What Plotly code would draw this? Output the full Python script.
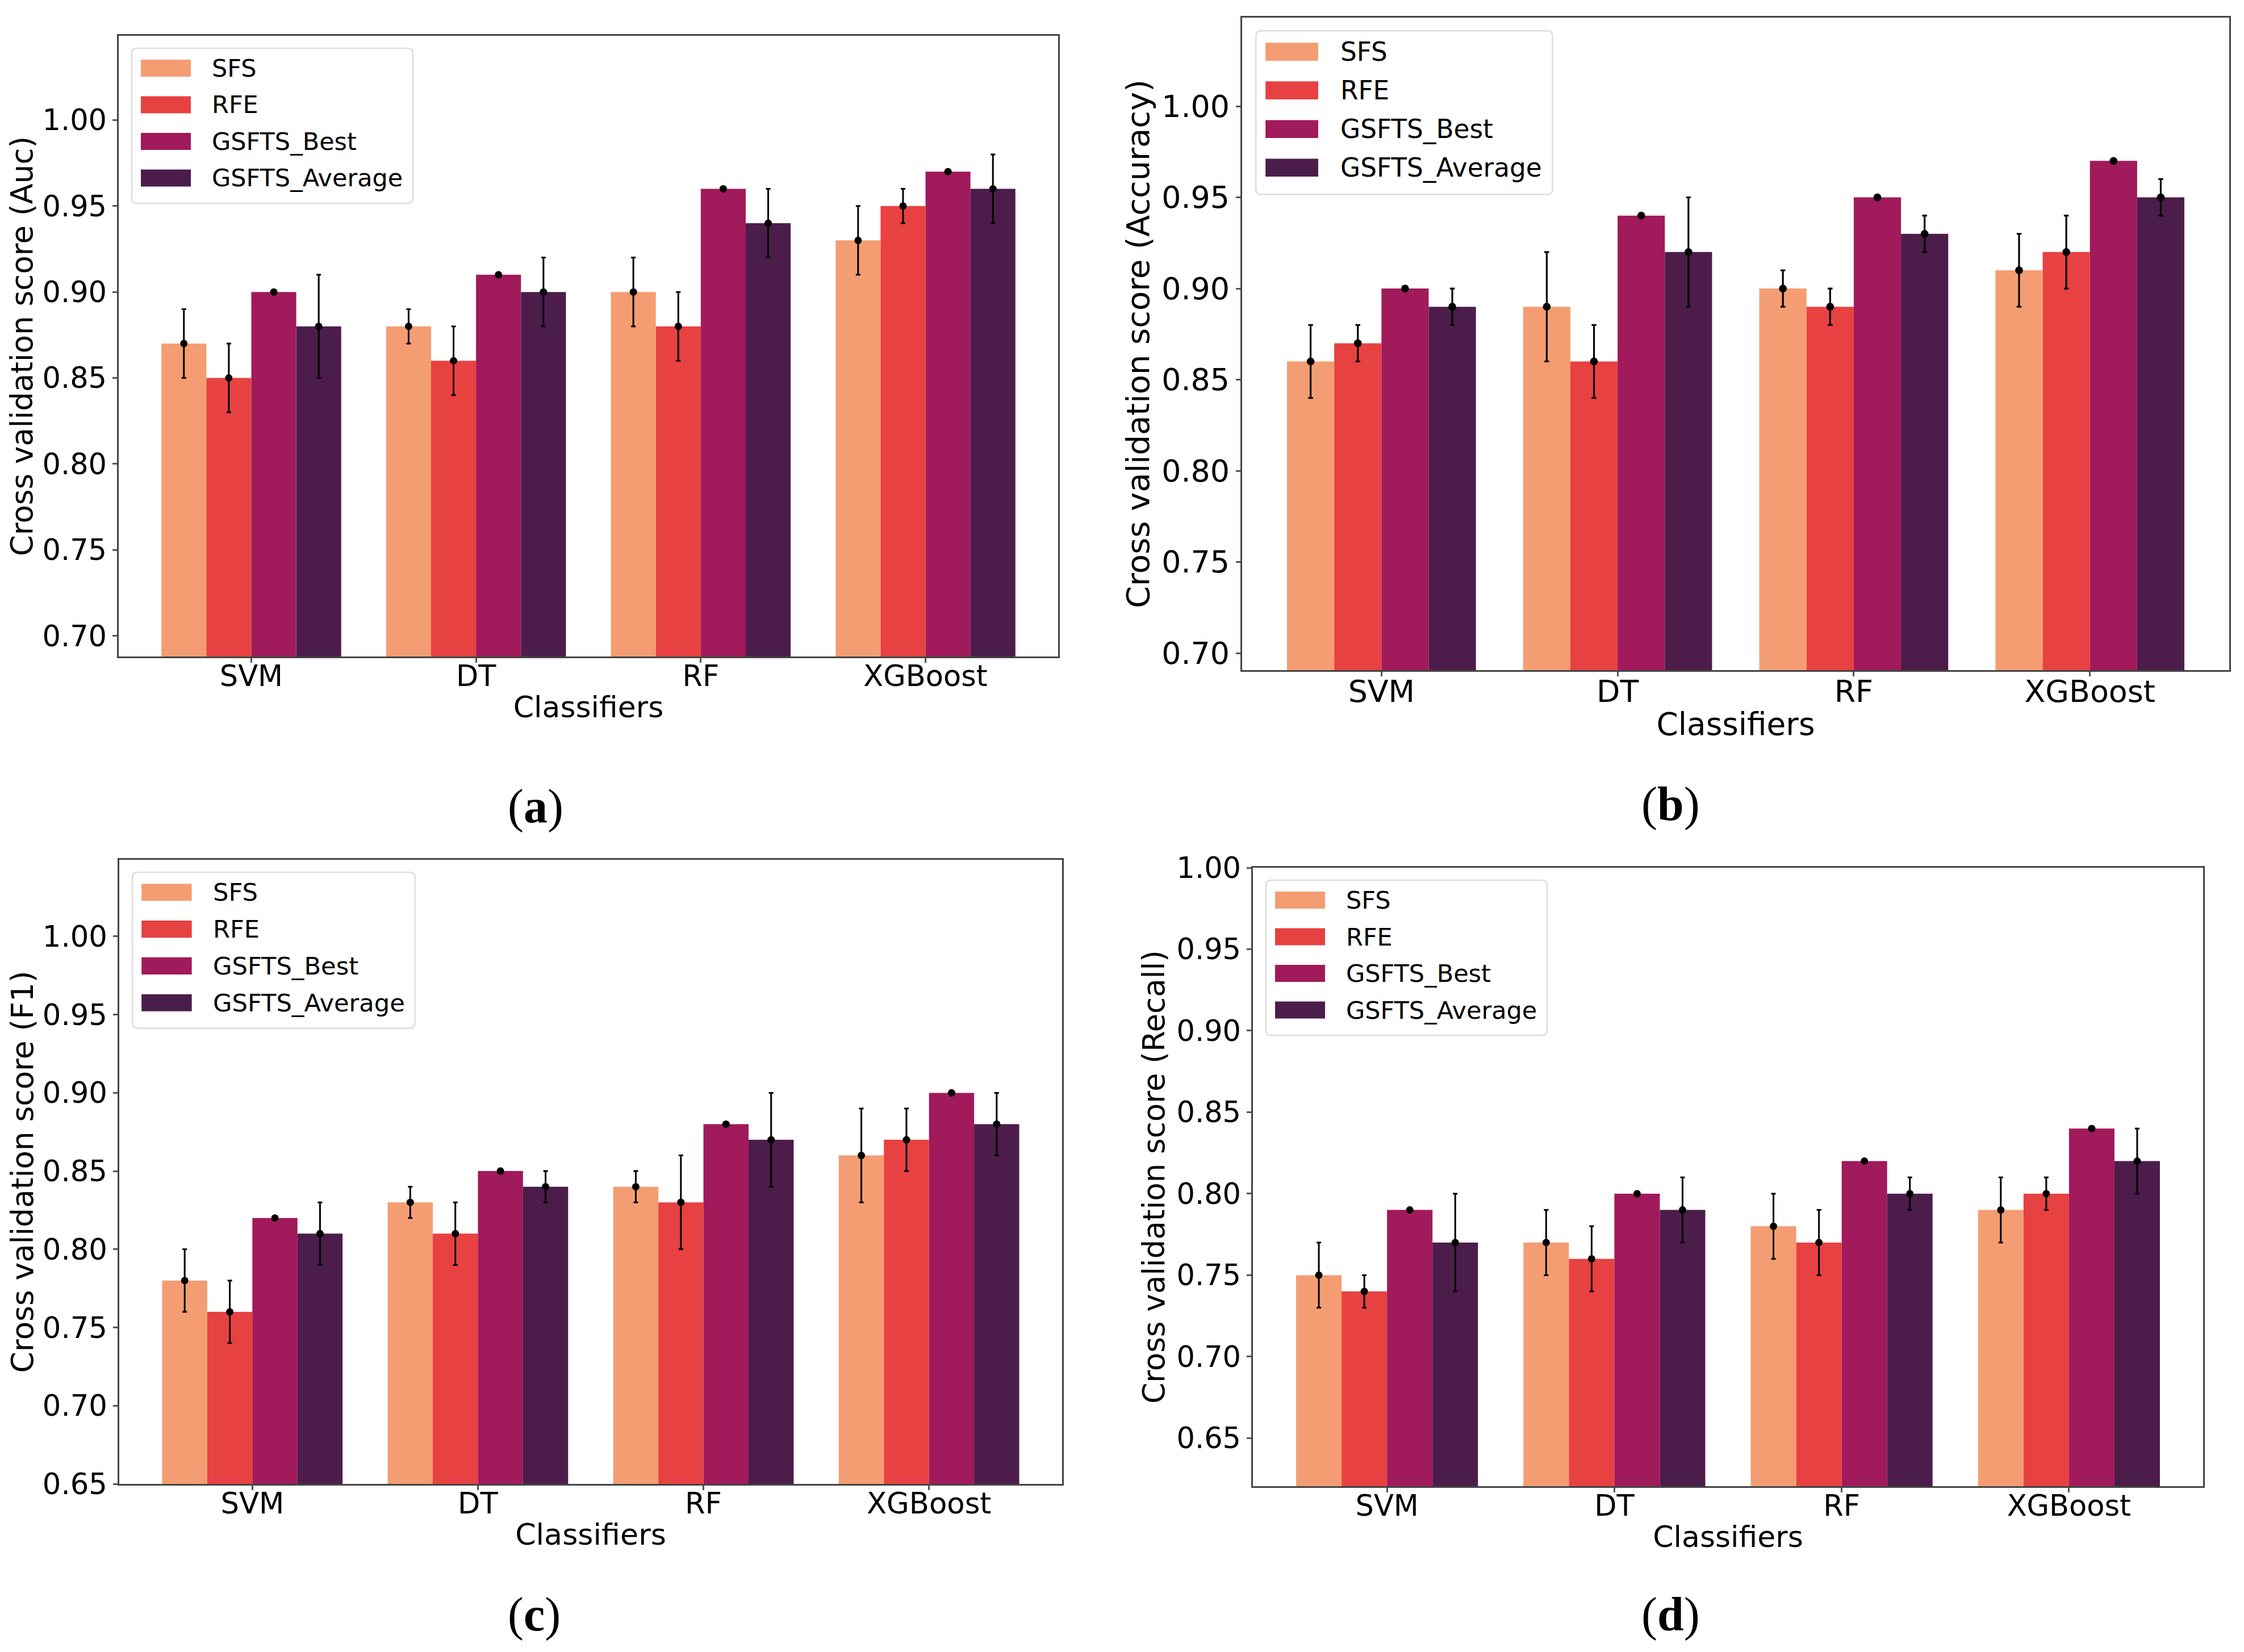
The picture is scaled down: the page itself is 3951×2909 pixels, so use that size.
import plotly.graph_objects as go

# ---------------- data ----------------
classifiers = ["SVM", "DT", "RF", "XGBoost"]
methods = ["SFS", "RFE", "GSFTS_Best", "GSFTS_Average"]
colors = ["#F49D72", "#E84141", "#A11A5B", "#4C1D4B"]

# (a) AUC
auc_sfs = [0.87, 0.88, 0.90, 0.93]
auc_sfs_err = [0.02, 0.01, 0.02, 0.02]
auc_rfe = [0.85, 0.86, 0.88, 0.95]
auc_rfe_err = [0.02, 0.02, 0.02, 0.01]
auc_best = [0.90, 0.91, 0.96, 0.97]
auc_best_err = [0.0, 0.0, 0.0, 0.0]
auc_avg = [0.88, 0.90, 0.94, 0.96]
auc_avg_err = [0.03, 0.02, 0.02, 0.02]

# (b) Accuracy
acc_sfs = [0.86, 0.89, 0.90, 0.91]
acc_sfs_err = [0.02, 0.03, 0.01, 0.02]
acc_rfe = [0.87, 0.86, 0.89, 0.92]
acc_rfe_err = [0.01, 0.02, 0.01, 0.02]
acc_best = [0.90, 0.94, 0.95, 0.97]
acc_best_err = [0.0, 0.0, 0.0, 0.0]
acc_avg = [0.89, 0.92, 0.93, 0.95]
acc_avg_err = [0.01, 0.03, 0.01, 0.01]

# (c) F1
f1_sfs = [0.78, 0.83, 0.84, 0.86]
f1_sfs_err = [0.02, 0.01, 0.01, 0.03]
f1_rfe = [0.76, 0.81, 0.83, 0.87]
f1_rfe_err = [0.02, 0.02, 0.03, 0.02]
f1_best = [0.82, 0.85, 0.88, 0.90]
f1_best_err = [0.0, 0.0, 0.0, 0.0]
f1_avg = [0.81, 0.84, 0.87, 0.88]
f1_avg_err = [0.02, 0.01, 0.03, 0.02]

# (d) Recall
rec_sfs = [0.75, 0.77, 0.78, 0.79]
rec_sfs_err = [0.02, 0.02, 0.02, 0.02]
rec_rfe = [0.74, 0.76, 0.77, 0.80]
rec_rfe_err = [0.01, 0.02, 0.02, 0.01]
rec_best = [0.79, 0.80, 0.82, 0.84]
rec_best_err = [0.0, 0.0, 0.0, 0.0]
rec_avg = [0.77, 0.79, 0.80, 0.82]
rec_avg_err = [0.03, 0.02, 0.01, 0.02]

y_titles = ["Cross validation score (Auc)", "Cross validation score (Accuracy)",
            "Cross validation score (F1)", "Cross validation score (Recall)"]
panel_labels = ["a", "b", "c", "d"]
y_ranges = [[0.688, 1.049], [0.6907, 1.0486], [0.65, 1.049], [0.6205, 1.0]]
x_title = "Classifiers"

# ---------------- layout geometry (pixels) ----------------
W, H = 3951, 2909
def px(x):
    return x / W
def py(y):
    return 1 - y / H

# x0, x1, ytop, ybottom, scale, label centre, y-title standoff
geom = [
    (209, 1863, 63, 1156, 1.0, (943, 1420), 0),
    (2187, 3925, 31, 1180, 1.055, (2941, 1416), 4),
    (210, 1870, 1514, 2613, 1.005, (940, 2843), 0),
    (2206, 3879, 1528, 2617, 1.0, (2941, 2843), 4),
]

series = [
    [(auc_sfs, auc_sfs_err), (auc_rfe, auc_rfe_err), (auc_best, auc_best_err), (auc_avg, auc_avg_err)],
    [(acc_sfs, acc_sfs_err), (acc_rfe, acc_rfe_err), (acc_best, acc_best_err), (acc_avg, acc_avg_err)],
    [(f1_sfs, f1_sfs_err), (f1_rfe, f1_rfe_err), (f1_best, f1_best_err), (f1_avg, f1_avg_err)],
    [(rec_sfs, rec_sfs_err), (rec_rfe, rec_rfe_err), (rec_best, rec_best_err), (rec_avg, rec_avg_err)],
]

FONT = "DejaVu Sans"
BAR_W = 0.2

fig = go.Figure()
layout = dict(
    width=W, height=H, margin=dict(l=0, r=0, t=0, b=0, pad=0, autoexpand=False),
    paper_bgcolor="white", plot_bgcolor="white",
    showlegend=False, barmode="overlay",
    font=dict(family=FONT, color="black"),
)
shapes = []
annotations = []

def rounded_rect(xa, ya, xb, yb, r):
    P = lambda x, y: f"{px(x):.6f},{py(y):.6f}"
    return ("M" + P(xa + r, ya) + " L" + P(xb - r, ya) + " Q" + P(xb, ya) + " " + P(xb, ya + r)
            + " L" + P(xb, yb - r) + " Q" + P(xb, yb) + " " + P(xb - r, yb)
            + " L" + P(xa + r, yb) + " Q" + P(xa, yb) + " " + P(xa, yb - r)
            + " L" + P(xa, ya + r) + " Q" + P(xa, ya) + " " + P(xa + r, ya) + " Z")

for p in range(4):
    x0, x1, yt, yb, s, lab, ystand = geom[p]
    ax = "" if p == 0 else str(p + 1)
    xref, yref = "x" + ax, "y" + ax
    for k in range(4):
        vals, errs = series[p][k]
        xs = [i + (k - 1.5) * BAR_W for i in range(len(classifiers))]
        fig.add_trace(go.Bar(
            x=xs, y=vals, width=BAR_W, name=methods[k],
            marker=dict(color=colors[k], line=dict(width=0)),
            xaxis=xref, yaxis=yref, hoverinfo="skip",
        ))
        fig.add_trace(go.Scatter(
            x=xs, y=vals, mode="markers", name=methods[k],
            marker=dict(color="black", size=13 * s),
            error_y=dict(type="data", array=errs, color="black",
                         thickness=3 * s, width=4 * s),
            xaxis=xref, yaxis=yref, hoverinfo="skip",
        ))
    layout["xaxis" + ax] = dict(
        domain=[px(x0), px(x1)], anchor=yref, range=[-0.59, 3.59], automargin=False,
        tickmode="array", tickvals=list(range(len(classifiers))), ticktext=classifiers,
        ticks="outside", ticklen=8 * s, tickwidth=2.5, tickcolor="#555",
        ticklabelstandoff=-20,
        tickfont=dict(family=FONT, size=51 * s, color="black"),
        showline=True, linecolor="#444", linewidth=2.5, mirror=True,
        showgrid=False, zeroline=False,
        title=dict(text=x_title, font=dict(family=FONT, size=52 * s, color="black"), standoff=8 * s),
    )
    layout["yaxis" + ax] = dict(
        domain=[py(yb), py(yt)], anchor=xref, range=y_ranges[p], automargin=False,
        tickmode="linear", tick0=0, dtick=0.05, tickformat=".2f",
        ticks="outside", ticklen=8 * s, tickwidth=2.5, tickcolor="#555",
        tickfont=dict(family=FONT, size=51 * s, color="black"),
        showline=True, linecolor="#444", linewidth=2.5, mirror=True,
        showgrid=False, zeroline=False,
        title=dict(text=y_titles[p], font=dict(family=FONT, size=53 * s, color="black"), standoff=ystand),
    )
    # legend (drawn inside the axes, top-left)
    bx0, by0 = x0 + 23 * s, yt + 22 * s
    bx1, by1 = bx0 + 495 * s, by0 + 273 * s
    shapes.append(dict(type="path", xref="paper", yref="paper",
                       path=rounded_rect(bx0, by0, bx1, by1, 9 * s),
                       fillcolor="rgba(255,255,255,0.85)", line=dict(color="#DDDDDD", width=2.5)))
    for k in range(4):
        ptop = yt + (42 + 64.5 * k) * s
        pbot = ptop + 30 * s
        shapes.append(dict(type="rect", xref="paper", yref="paper",
                           x0=px(x0 + 39 * s), x1=px(x0 + 127 * s), y0=py(pbot), y1=py(ptop),
                           fillcolor=colors[k], line=dict(width=0)))
        annotations.append(dict(xref="paper", yref="paper", x=px(x0 + 162 * s), y=py((ptop + pbot) / 2),
                                text=methods[k], showarrow=False, xanchor="left", yanchor="middle",
                                font=dict(family=FONT, size=43 * s, color="black")))
    annotations.append(dict(xref="paper", yref="paper", x=px(lab[0]), y=py(lab[1]),
                            text="(<b>" + panel_labels[p] + "</b>)", showarrow=False,
                            xanchor="center", yanchor="middle",
                            font=dict(family="Liberation Serif", size=84, color="black")))

layout["shapes"] = shapes
layout["annotations"] = annotations
fig.update_layout(**layout)
fig.write_html("out.html", config={"displayModeBar": False},
               post_script="document.body.style.margin='0';document.body.style.overflow='hidden';")
